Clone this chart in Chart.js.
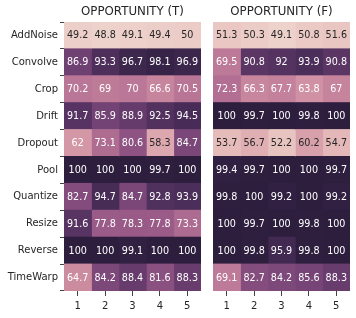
<!DOCTYPE html>
<html>
<head>
<meta charset="utf-8">
<script src="https://cdn.jsdelivr.net/npm/chart.js@4"></script>
<style>
  body { margin: 0; background: #fff; }
  #wrap { position: relative; width: 356px; height: 318px; }
  canvas { position: absolute; top: 0; }
</style>
</head>
<body>
<div id="wrap">
  <canvas id="left" style="left:0px" width="201" height="318"></canvas>
  <canvas id="right" style="left:213px" width="137" height="318"></canvas>
</div>
<script>
// data
var rows = ["AddNoise", "Convolve", "Crop", "Drift", "Dropout", "Pool", "Quantize", "Resize", "Reverse", "TimeWarp"];
var cols = ["1", "2", "3", "4", "5"];

var valsT = [
  [49.2, 48.8, 49.1, 49.4, 50],
  [86.9, 93.3, 96.7, 98.1, 96.9],
  [70.2, 69, 70, 66.6, 70.5],
  [91.7, 85.9, 88.9, 92.5, 94.5],
  [62, 73.1, 80.6, 58.3, 84.7],
  [100, 100, 100, 99.7, 100],
  [82.7, 94.7, 84.7, 92.8, 93.9],
  [91.6, 77.8, 78.3, 77.8, 73.3],
  [100, 100, 99.1, 100, 100],
  [64.7, 84.2, 88.4, 81.6, 88.3]
];
var valsF = [
  [51.3, 50.3, 49.1, 50.8, 51.6],
  [69.5, 90.8, 92, 93.9, 90.8],
  [72.3, 66.3, 67.7, 63.8, 67],
  [100, 99.7, 100, 99.8, 100],
  [53.7, 56.7, 52.2, 60.2, 54.7],
  [99.4, 99.7, 100, 100, 99.7],
  [99.8, 100, 99.2, 100, 99.2],
  [100, 99.7, 100, 99.8, 100],
  [100, 99.8, 95.9, 99.8, 100],
  [69.1, 82.7, 84.2, 85.6, 88.3]
];

var FONT = "'DejaVu Sans', sans-serif";
var INK = "#262626";

// seaborn cubehelix_palette(as_cmap=True) default params
function cubehelix(x) {
  var a = 0.8 * x * (1 - x) / 2;
  var phi = 2 * Math.PI * (0 + 0.4 * x);
  var r = x + a * (-0.14861 * Math.cos(phi) + 1.78277 * Math.sin(phi));
  var g = x + a * (-0.29227 * Math.cos(phi) - 0.90649 * Math.sin(phi));
  var b = x + a * (1.97294 * Math.cos(phi));
  return [r, g, b].map(function (c) { return Math.min(1, Math.max(0, c)); });
}

function cellColor(v, vmin, vmax) {
  var t = (v - vmin) / (vmax - vmin);
  var idx = Math.min(255, Math.max(0, Math.floor(t * 256)));
  var x = 0.85 - 0.7 * idx / 255;
  return cubehelix(x);
}

function toCss(c) {
  return "rgb(" + c.map(function (k) { return Math.round(k * 255); }).join(",") + ")";
}

function textColor(c) {
  var lin = c.map(function (k) { return k <= 0.03928 ? k / 12.92 : Math.pow((k + 0.055) / 1.055, 2.4); });
  var lum = 0.2126 * lin[0] + 0.7152 * lin[1] + 0.0722 * lin[2];
  return lum > 0.408 ? INK : "#ffffff";
}

function buildHeatmap(id, vals, title, showRows) {
  var flat = [].concat.apply([], vals);
  var vmin = Math.min.apply(null, flat);
  var vmax = Math.max.apply(null, flat);

  var datasets = cols.map(function (c, j) {
    var colors = vals.map(function (r) { return cellColor(r[j], vmin, vmax); });
    return {
      label: c,
      data: rows.map(function () { return 1; }),
      backgroundColor: colors.map(toCss),
      textColors: colors.map(textColor),
      values: vals.map(function (r) { return r[j]; }),
      borderWidth: 0,
      inflateAmount: 0.5,
      barPercentage: 1,
      categoryPercentage: 1
    };
  });

  // cell numbers + title
  var annot = {
    id: "annot",
    afterDatasetsDraw: function (chart) {
      var ctx = chart.ctx;
      ctx.save();
      ctx.font = "9.6px " + FONT;
      ctx.textAlign = "center";
      ctx.textBaseline = "middle";
      chart.data.datasets.forEach(function (ds, j) {
        chart.getDatasetMeta(j).data.forEach(function (el, i) {
          ctx.fillStyle = ds.textColors[i];
          ctx.fillText(String(ds.values[i]), (el.x + el.base) / 2, el.y + 0.5);
        });
      });
      var a = chart.chartArea;
      ctx.fillStyle = INK;
      ctx.font = "11.8px " + FONT;
      ctx.fillText(title, (a.left + a.right) / 2, 12);
      ctx.restore();
    }
  };

  return new Chart(document.getElementById(id), {
    type: "bar",
    data: { labels: rows, datasets: datasets },
    plugins: [annot],
    options: {
      indexAxis: "y",
      responsive: false,
      animation: false,
      layout: { padding: { top: 22, left: 0, right: 0, bottom: 0 } },
      plugins: { legend: { display: false }, tooltip: { enabled: false }, title: { display: false } },
      scales: {
        x: {
          type: "linear",
          stacked: true,
          min: 0,
          max: cols.length,
          afterBuildTicks: function (scale) {
            scale.ticks = cols.map(function (c, i) { return { value: i + 0.5 }; });
          },
          afterFit: function (scale) { scale.height = 27; },
          border: { display: false },
          grid: { drawOnChartArea: false, tickLength: 5, tickColor: "#444", tickWidth: 1 },
          ticks: {
            autoSkip: false,
            maxRotation: 0,
            padding: 4,
            color: INK,
            font: { family: FONT, size: 10 },
            callback: function (v, i) { return cols[i]; }
          }
        },
        y: {
          stacked: true,
          display: showRows,
          afterFit: function (scale) { scale.width = showRows ? 64 : 0; },
          border: { display: false },
          grid: { drawOnChartArea: false, tickLength: 4, tickColor: "#444", tickWidth: 1 },
          ticks: { padding: 2, color: INK, font: { family: FONT, size: 10 } }
        }
      }
    }
  });
}

buildHeatmap("left", valsT, "OPPORTUNITY (T)", true);
buildHeatmap("right", valsF, "OPPORTUNITY (F)", false);
</script>
</body>
</html>
